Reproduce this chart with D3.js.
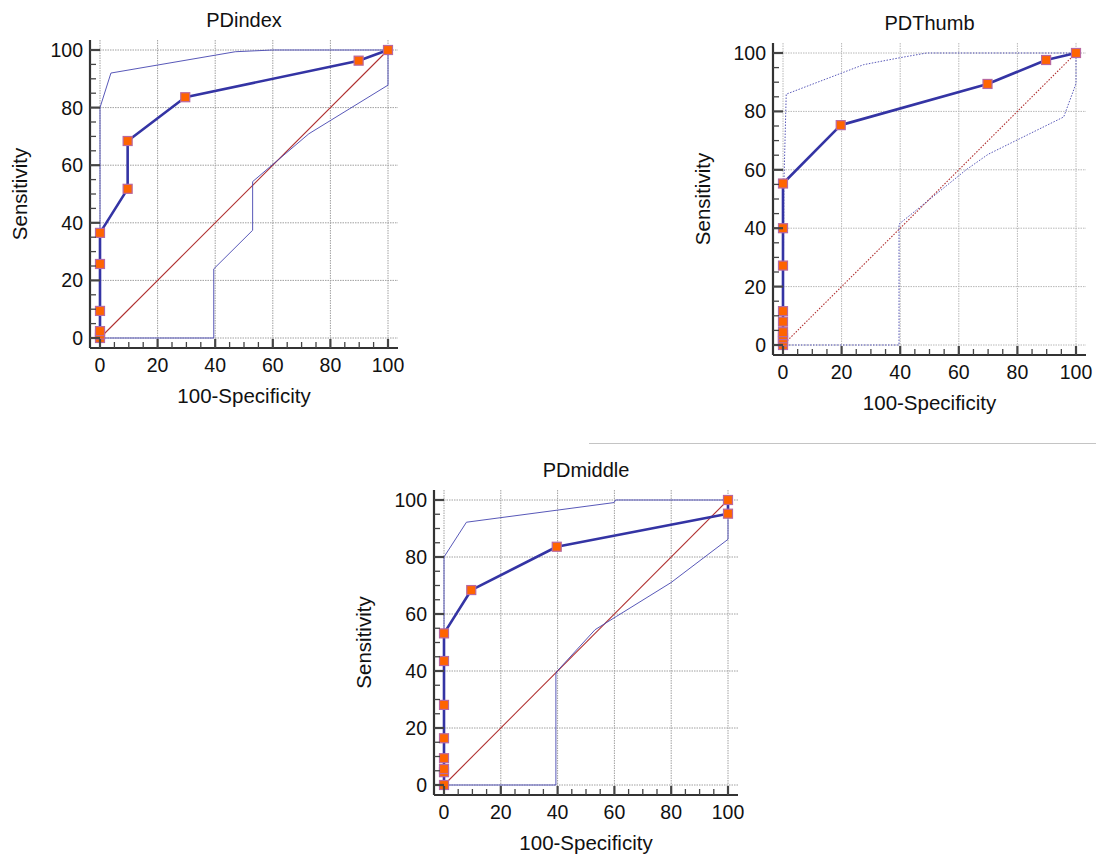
<!DOCTYPE html>
<html>
<head>
<meta charset="utf-8">
<script src="https://d3js.org/d3.v7.min.js"></script>
<style>
  body { margin: 0; padding: 0; background: #fff; }
  text { font-family: "Liberation Sans", Arial, sans-serif; fill: #111; }
</style>
</head>
<body>
<div id="chart"></div>
<script>
// tick values shared by all three panels
var majorTicks = [0, 20, 40, 60, 80, 100];
var minorTicks = d3.range(0, 101, 5);

// PDindex: ROC points [100-specificity, sensitivity] and confidence bounds
var indexRoc = [[0, 0], [0, 1.2], [0, 2.4], [0, 9.4], [0, 25.7], [0, 36.5], [9.6, 51.8], [9.6, 68.4], [29.6, 83.6], [89.8, 96.3], [100, 100]];
var indexUpper = [[0, 0], [0, 80], [3.8, 92], [47, 99.4], [60, 100], [100, 100]];
var indexLower = [[0, 0], [39.5, 0], [39.5, 24], [53, 37.4], [53, 54.3], [72.5, 70.9], [100, 87.8], [100, 100]];

// PDThumb
var thumbRoc = [[0, 0], [0, 1.2], [0, 2.3], [0, 3.4], [0, 4.4], [0, 8], [0, 11.6], [0, 27.2], [0, 40], [0, 55.3], [19.7, 75.3], [69.8, 89.4], [89.8, 97.6], [100, 100]];
var thumbUpper = [[0, 0], [0.3, 55], [1.1, 85.9], [27.5, 96], [40, 98.4], [49, 100], [100, 100]];
var thumbLower = [[0, 0], [39.6, 0], [39.6, 41.4], [62.5, 60], [70, 65.3], [95.8, 78.1], [100, 89.5], [100, 100]];

// PDmiddle
var middleRoc = [[0, 0], [0, 4.5], [0, 5.6], [0, 9.4], [0, 16.4], [0, 28.1], [0, 43.5], [0, 53.2], [9.6, 68.4], [39.7, 83.6], [100, 95.2], [100, 100]];
var middleUpper = [[0, 0], [0, 80], [7.9, 92.2], [59.9, 99.1], [60.4, 100], [100, 100]];
var middleLower = [[0, 0], [39.4, 0], [39.4, 39], [39.8, 39.9], [53.2, 54.5], [60.8, 59.2], [79.9, 71], [100, 86.2], [100, 100]];

var panelTitles = ["PDindex", "PDThumb", "PDmiddle"];
var xLabel = "100-Specificity";
var yLabel = "Sensitivity";

var svg = d3.select("#chart").append("svg")
    .attr("width", 1096)
    .attr("height", 854);

// separator line right of the top row
svg.append("line")
    .attr("x1", 589).attr("x2", 1096)
    .attr("y1", 443.5).attr("y2", 443.5)
    .style("stroke", "#c4c4c4")
    .style("stroke-width", 1.2);

function drawRoc(p) {
    var g = svg.append("g").attr("transform", `translate(${p.left},${p.top})`);
    var pad = 10;
    var x = d3.scaleLinear().domain([0, 100]).range([pad, p.w - pad]);
    var y = d3.scaleLinear().domain([0, 100]).range([p.h - pad, pad]);
    var dash = p.dotted ? "1.5,1.5" : "none";

    // grid
    g.selectAll(".vgrid").data(majorTicks).enter().append("line")
        .attr("x1", d => x(d)).attr("x2", d => x(d))
        .attr("y1", 0).attr("y2", p.h)
        .style("stroke", p.dotted ? "#b8b8b8" : "#a0a0a0")
        .style("stroke-width", 1)
        .style("stroke-dasharray", "1.5,1");
    g.selectAll(".hgrid").data(majorTicks).enter().append("line")
        .attr("x1", 0).attr("x2", p.w)
        .attr("y1", d => y(d)).attr("y2", d => y(d))
        .style("stroke", p.dotted ? "#b8b8b8" : "#a0a0a0")
        .style("stroke-width", 1)
        .style("stroke-dasharray", "1.5,1");

    var line = d3.line().x(d => x(d[0])).y(d => y(d[1]));

    // diagonal reference
    g.append("path")
        .datum([[0, 0], [100, 100]])
        .attr("d", line)
        .style("fill", "none")
        .style("stroke", "#b03030")
        .style("stroke-width", 1.1)
        .style("stroke-dasharray", dash);

    // confidence bounds
    [p.upper, p.lower].forEach(function (band) {
        g.append("path")
            .datum(band)
            .attr("d", line)
            .style("fill", "none")
            .style("stroke", "#4545b0")
            .style("stroke-width", 0.9)
            .style("stroke-dasharray", dash);
    });

    // ROC curve
    g.append("path")
        .datum(p.roc)
        .attr("d", line)
        .style("fill", "none")
        .style("stroke", "#3434a4")
        .style("stroke-width", 2.6)
        .style("stroke-linejoin", "round");

    g.selectAll(".pt").data(p.roc).enter().append("rect")
        .attr("x", d => x(d[0]) - 4.5)
        .attr("y", d => y(d[1]) - 4.5)
        .attr("width", 9).attr("height", 9)
        .style("fill", "#ff6400")
        .style("stroke", "#b868a0")
        .style("stroke-width", 1.2);

    // axes
    g.append("line").attr("x1", 0).attr("x2", 0).attr("y1", 0).attr("y2", p.h)
        .style("stroke", "#333").style("stroke-width", 2.2);
    g.append("line").attr("x1", 0).attr("x2", p.w).attr("y1", p.h).attr("y2", p.h)
        .style("stroke", "#333").style("stroke-width", 2.2);

    g.selectAll(".ymin").data(minorTicks).enter().append("line")
        .attr("x1", 0).attr("x2", d => d % 20 === 0 ? 10 : 6)
        .attr("y1", d => y(d)).attr("y2", d => y(d))
        .style("stroke", "#444")
        .style("stroke-width", d => d % 20 === 0 ? 2.2 : 1.3);
    g.selectAll(".xmin").data(minorTicks).enter().append("line")
        .attr("y1", p.h).attr("y2", d => p.h - (d % 20 === 0 ? 9 : 6))
        .attr("x1", d => x(d)).attr("x2", d => x(d))
        .style("stroke", "#444")
        .style("stroke-width", d => d % 20 === 0 ? 2.2 : 1.3);

    g.selectAll(".ylab").data(majorTicks).enter().append("text")
        .attr("x", -7)
        .attr("y", d => y(d))
        .attr("dy", "0.36em")
        .attr("text-anchor", "end")
        .style("font-size", "19.5px")
        .text(d => d);
    g.selectAll(".xlab").data(majorTicks).enter().append("text")
        .attr("x", d => x(d))
        .attr("y", p.h + 24)
        .attr("text-anchor", "middle")
        .style("font-size", "19.5px")
        .text(d => d);

    g.append("text")
        .attr("x", p.w / 2).attr("y", -13)
        .attr("text-anchor", "middle")
        .style("font-size", "20px")
        .text(p.title);
    g.append("text")
        .attr("x", p.w / 2).attr("y", p.h + 55)
        .attr("text-anchor", "middle")
        .style("font-size", "20.5px")
        .text(xLabel);
    g.append("text")
        .attr("transform", `translate(-63,${p.h / 2}) rotate(-90)`)
        .attr("text-anchor", "middle")
        .style("font-size", "20.5px")
        .text(yLabel);
}

drawRoc({ title: panelTitles[0], left: 90, top: 40, w: 308, h: 308, roc: indexRoc, upper: indexUpper, lower: indexLower, dotted: false });
drawRoc({ title: panelTitles[1], left: 773, top: 43, w: 313, h: 312, roc: thumbRoc, upper: thumbUpper, lower: thumbLower, dotted: true });
drawRoc({ title: panelTitles[2], left: 434, top: 490, w: 304, h: 305, roc: middleRoc, upper: middleUpper, lower: middleLower, dotted: false });
</script>
</body>
</html>
